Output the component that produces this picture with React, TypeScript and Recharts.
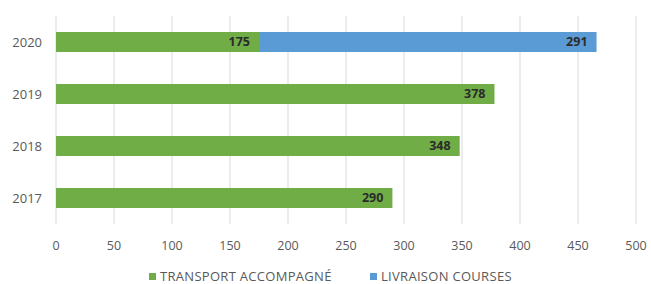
import React from 'react';
import { BarChart, Bar, XAxis, YAxis, CartesianGrid, Legend, LabelList } from 'recharts';

const years = ['2020', '2019', '2018', '2017'];
const transportAccompagne = [175, 378, 348, 290];
const livraisonCourses = [291, null, null, null];
const xTicks = [0, 50, 100, 150, 200, 250, 300, 350, 400, 450, 500];

const GREEN = '#70ad47';
const BLUE = '#5b9bd5';
const FONT = '"Open Sans", "Liberation Sans", sans-serif';

const data = years.map((y, i) => ({
  year: y,
  transport: transportAccompagne[i],
  livraison: livraisonCourses[i],
}));

const legendItems = [
  { label: 'TRANSPORT ACCOMPAGNÉ', color: GREEN, left: 149 },
  { label: 'LIVRAISON COURSES', color: BLUE, left: 370 },
];

const CustomLegend = () => (
  <div style={{ position: 'relative', height: 16, width: 651, fontFamily: FONT, fontSize: 13, letterSpacing: 0.3, color: '#595959' }}>
    {legendItems.map((it) => (
      <div key={it.label} style={{ position: 'absolute', left: it.left, top: 0, height: 16, display: 'flex', alignItems: 'center', whiteSpace: 'nowrap' }}>
        <span style={{ display: 'inline-block', width: 7, height: 7, background: it.color, marginRight: 4 }} />
        <span>{it.label}</span>
      </div>
    ))}
  </div>
);

export default function App() {
  return (
    <div style={{ position: 'absolute', left: 0, top: 0, background: '#fff' }}>
      <BarChart
        width={651}
        height={284}
        data={data}
        layout="vertical"
        margin={{ top: 16, right: 15, left: 0, bottom: 0 }}
        barSize={20}
      >
        <CartesianGrid vertical={true} horizontal={false} stroke="#d9d9d9" />
        <XAxis
          type="number"
          domain={[0, 500]}
          ticks={xTicks}
          axisLine={false}
          tickLine={false}
          tickMargin={11}
          height={44}
          tick={{ fill: '#595959', fontSize: 12.5, fontFamily: FONT }}
        />
        <YAxis
          type="category"
          dataKey="year"
          width={56}
          axisLine={false}
          tickLine={false}
          tickMargin={8}
          tick={{ fill: '#595959', fontSize: 13, fontFamily: FONT }}
        />
        <Legend verticalAlign="bottom" align="left" height={16} wrapperStyle={{ left: 0, width: 651 }} content={<CustomLegend />} />
        <Bar dataKey="transport" stackId="a" fill={GREEN} isAnimationActive={false}>
          <LabelList dataKey="transport" position="insideRight" offset={9} fill="#2b2b2b" fontSize={12.5} fontWeight="bold" fontFamily={FONT} />
        </Bar>
        <Bar dataKey="livraison" stackId="a" fill={BLUE} isAnimationActive={false}>
          <LabelList dataKey="livraison" position="insideRight" offset={9} fill="#2b2b2b" fontSize={12.5} fontWeight="bold" fontFamily={FONT} />
        </Bar>
      </BarChart>
    </div>
  );
}
